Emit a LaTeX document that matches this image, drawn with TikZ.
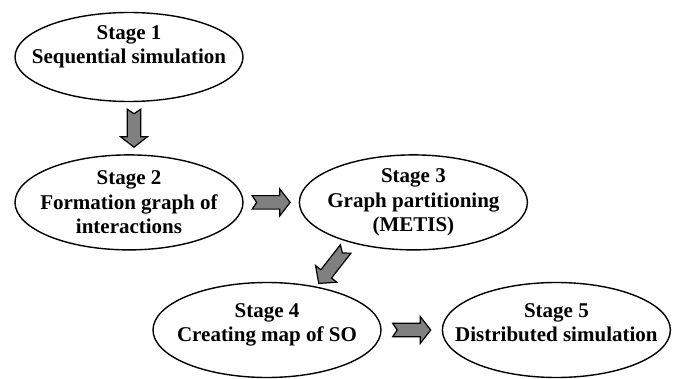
\documentclass[tikz,border=0pt]{standalone}
\usepackage{fontspec}
\setmainfont{Liberation Serif}
\usetikzlibrary{shapes.geometric,
                calc,
                positioning}
\definecolor{arrowgray}{RGB}{128,128,128}
\tikzset{
  stage/.style={ellipse, draw=black, line width=1.4pt, minimum width=228pt, minimum height=95pt,
                inner xsep=-30pt, inner ysep=-4pt, align=center,
                font=\bfseries\fontsize{21}{24.5}\selectfont},
  blockbody/.style={draw=black, line width=1.2pt, fill=arrowgray, line join=miter},
  pics/notched/.style={code={
    \draw[blockbody] (-19,6.75) -- (8.5,6.75) -- (8.5,13.5) -- (19,0) -- (8.5,-13.5)
                     -- (8.5,-6.75) -- (-19,-6.75) -- (-14.5,0) -- cycle;
  }}
}
\begin{document}
\begin{tikzpicture}[x=1pt, y=1pt]
        \useasboundingbox (0,0) rectangle (683,378);
        	\node (s1) [stage, minimum height=89pt] at (129,321) {Stage 1\\Sequential simulation\\\mbox{}};
			\node (s2) [stage, below=52pt of s1] {Stage 2\\Formation graph of\\interactions};
			\node (s3) [stage, right=55pt of s2] {Stage 3\\Graph partitioning\\(METIS)};
			\node (s4) [stage, text depth=15pt] at (267,48) {Stage 4\\Creating map of SO};
			\node (s5) [stage, text depth=15pt, right=60pt of s4] {Stage 5\\Distributed simulation};
			\pic[rotate=-90] at ($(s1.south)!0.5!(s2.north)+(5,0)$) {notched};
			\pic at ($(s2.east)!0.5!(s3.west)$) {notched};
			\pic[rotate=232, xscale=1.15] at ($(s3.south)!0.5!(s4.north)+(-8,0)$) {notched};
			\pic at ($(s4.east)!0.5!(s5.west)$) {notched};
			% 
        \end{tikzpicture}
\end{document}
